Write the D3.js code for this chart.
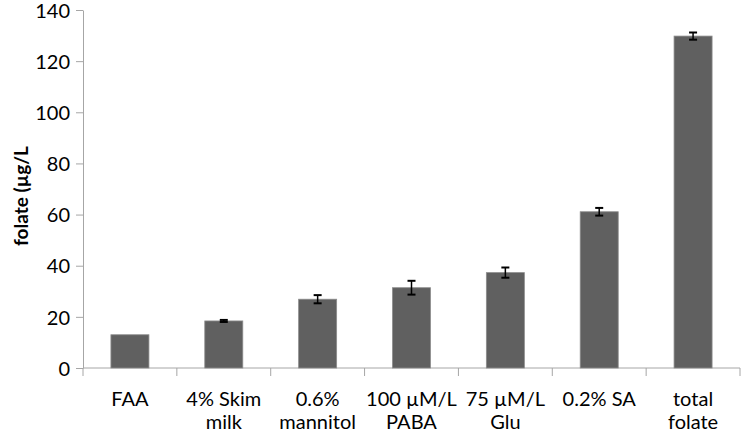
<!DOCTYPE html>
<html>
<head>
<meta charset="utf-8">
<script src="https://cdn.jsdelivr.net/npm/d3@7"></script>
<style>
  body { margin: 0; background: #fff; }
  #container { width: 742px; height: 433px; }
  text { font-family: Lato, "Open Sans", sans-serif; fill: #000; }
</style>
</head>
<body>
<div id="container"></div>
<script>
// chart data
const categories = [["FAA"], ["4% Skim", "milk"], ["0.6%", "mannitol"], ["100 µM/L", "PABA"], ["75 µM/L", "Glu"], ["0.2% SA"], ["total", "folate"]];
const values = [13, 18.4, 26.9, 31.4, 37.3, 61.1, 129.8];
const errors = [0, 0.4, 1.6, 2.7, 2.0, 1.5, 1.4];
const yTicks = [0, 20, 40, 60, 80, 100, 120, 140];

const width = 742, height = 433;
const margin = {top: 10, left: 83, right: 2, bottom: 65};
const font = "Lato, Open Sans, sans-serif";

const svg = d3.select("#container")
  .append("svg")
  .attr("width", width)
  .attr("height", height);

const x = d3.scaleBand()
  .domain(d3.range(categories.length))
  .range([margin.left, width - margin.right])
  .paddingInner(0.595)
  .paddingOuter(0.2975);

const y = d3.scaleLinear()
  .domain([0, 140])
  .range([height - margin.bottom, margin.top]);

// y axis
const yAxis = svg.append("g")
  .attr("transform", "translate(" + margin.left + ",0)")
  .call(d3.axisLeft(y).tickValues(yTicks).tickSize(7).tickSizeOuter(0).tickPadding(6));
yAxis.select(".domain").attr("stroke", "#a6a6a6");
yAxis.selectAll(".tick line").attr("stroke", "#a6a6a6");
yAxis.selectAll(".tick text")
  .attr("font-size", "20px")
  .attr("font-family", font)
  .attr("dy", "0.36em")
  .attr("fill", "#000");

// x axis (category separators)
const xEdge = d3.scaleLinear()
  .domain([0, categories.length])
  .range([margin.left, width - margin.right]);
const xAxis = svg.append("g").attr("class", "x_axis");
xAxis.append("line")
  .attr("x1", xEdge(0)).attr("x2", xEdge(categories.length))
  .attr("y1", y(0)).attr("y2", y(0))
  .attr("stroke", "#a6a6a6");
xAxis.selectAll("line.sep")
  .data(d3.range(categories.length + 1))
  .enter()
  .append("line")
  .attr("class", "sep")
  .attr("x1", d => xEdge(d)).attr("x2", d => xEdge(d))
  .attr("y1", y(0)).attr("y2", y(0) + 8)
  .attr("stroke", "#a6a6a6");

// bars
svg.append("g")
  .selectAll("rect")
  .data(values)
  .enter()
  .append("rect")
  .attr("x", (d, i) => x(i))
  .attr("y", d => y(d))
  .attr("width", x.bandwidth())
  .attr("height", d => y(0) - y(d))
  .attr("fill", "#606060")
  .attr("stroke", "#8c8c8c")
  .attr("stroke-width", 0.8);

// error bars
const eb = svg.append("g").attr("class", "errors");
values.forEach((v, i) => {
  const e = errors[i];
  if (!e) return;
  const cx = x(i) + x.bandwidth() / 2;
  eb.append("line")
    .attr("x1", cx).attr("x2", cx)
    .attr("y1", y(v + e)).attr("y2", y(v - e))
    .attr("stroke", "#000").attr("stroke-width", 1.5);
  [v + e, v - e].forEach(t => {
    eb.append("line")
      .attr("x1", cx - 4).attr("x2", cx + 4)
      .attr("y1", y(t)).attr("y2", y(t))
      .attr("stroke", "#000").attr("stroke-width", 2);
  });
});

// category labels, one text per line
const labels = svg.append("g").attr("class", "labels");
categories.forEach((lines, i) => {
  lines.forEach((l, j) => {
    labels.append("text")
      .attr("text-anchor", "middle")
      .attr("font-size", "20px")
      .attr("x", x(i) + x.bandwidth() / 2)
      .attr("y", 406 + j * 23)
      .text(l);
  });
});

// y title
svg.append("text")
  .attr("transform", "translate(28," + 196 + ") rotate(-90)")
  .attr("text-anchor", "middle")
  .attr("font-size", "19px")
  .attr("font-weight", "bold")
  .text("folate (µg/L");
</script>
</body>
</html>
